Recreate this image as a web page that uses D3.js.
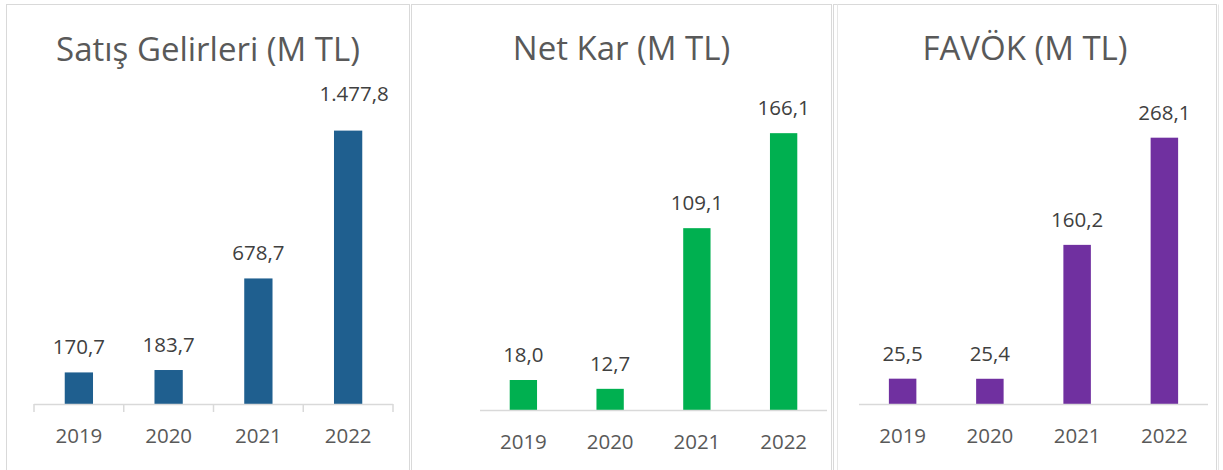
<!DOCTYPE html>
<html>
<head>
<meta charset="utf-8">
<script src="https://cdn.jsdelivr.net/npm/d3@7"></script>
<style>
  html, body { margin: 0; padding: 0; background: #ffffff; }
  svg { display: block; font-family: "Open Sans", "Noto Sans", sans-serif; }
</style>
</head>
<body>
<svg id="chart" width="1223" height="470"></svg>
<script>
// ---- data ----
const years = ["2019", "2020", "2021", "2022"];
const salesRevenue = [170.7, 183.7, 678.7, 1477.8];
const netProfit = [18.0, 12.7, 109.1, 166.1];
const ebitda = [25.5, 25.4, 160.2, 268.1];
const panelTitles = ["Satış Gelirleri (M TL)", "Net Kar (M TL)", "FAVÖK (M TL)"];
const axisMaxima = [1600, 180, 300];

// ---- layout / style ----
const seriesList = [salesRevenue, netProfit, ebitda];
const colors = ["#1F5F8F", "#00B050", "#7030A0"];
const panels = [
  { left: 6.5, right: 409.5, ax0: 34, ax1: 393, axisY: 404, top: 108, titleY: 61, ticks: true,
    nudge: { 3: { dx: 6, dy: -12 } } },
  { left: 411.5, right: 831.5, ax0: 480, ax1: 827, axisY: 410, top: 110, titleY: 60, ticks: false, nudge: {} },
  { left: 833.5, right: 1216.5, ax0: 859, ax1: 1208, axisY: 404, top: 106, titleY: 60, ticks: false, nudge: {},
    extra: [837.5, 1218.5] }
];

const trFormat = d3.formatLocale({ decimal: ",", thousands: ".", grouping: [3], currency: ["", " TL"] }).format(",.1f");
const svg = d3.select("#chart");
const pad = 0.685;

panels.forEach((p, i) => {
  const g = svg.append("g");
  // panel frame
  g.append("rect")
    .attr("x", p.left).attr("y", 4.5)
    .attr("width", p.right - p.left).attr("height", 480)
    .attr("fill", "none").attr("stroke", "#d9d9d9").attr("stroke-width", 1);
  if (p.extra) {
    p.extra.forEach(xx => g.append("line")
      .attr("x1", xx).attr("x2", xx).attr("y1", 4.5).attr("y2", 470)
      .attr("stroke", "#e6e6e6").attr("stroke-width", 1));
  }

  const x = d3.scaleBand().domain(years).range([p.ax0, p.ax1])
    .paddingInner(pad).paddingOuter(pad / 2);
  const y = d3.scaleLinear().domain([0, axisMaxima[i]]).range([p.axisY, p.top]);
  const data = years.map((yr, k) => ({ year: yr, value: seriesList[i][k], k }));

  // title
  g.append("text")
    .attr("x", (p.left + p.right) / 2).attr("y", p.titleY)
    .attr("text-anchor", "middle")
    .attr("font-size", 33).attr("fill", "#595959")
    .text(panelTitles[i]);

  // bars
  g.selectAll("rect.bar").data(data).join("rect")
    .attr("class", "bar")
    .attr("x", d => x(d.year)).attr("width", x.bandwidth())
    .attr("y", d => y(d.value)).attr("height", d => y(0) - y(d.value))
    .attr("fill", colors[i]);

  // axis
  const axis = d3.axisBottom(x).tickSize(0).tickPadding(0);
  const ag = g.append("g").attr("transform", `translate(0,${p.axisY})`).call(axis);
  ag.select(".domain").attr("stroke", "#d9d9d9").attr("stroke-width", 1.5)
    .attr("d", `M${p.ax0},0.5H${p.ax1}`);
  ag.selectAll(".tick text")
    .attr("dy", null).attr("y", 39)
    .attr("font-size", 20.5).attr("font-family", "Open Sans, sans-serif")
    .attr("fill", "#595959");
  if (p.ticks) {
    const step = x.step();
    d3.range(years.length + 1).forEach(k => {
      const tx = p.ax0 + k * step;
      ag.append("line").attr("x1", tx).attr("x2", tx).attr("y1", 0).attr("y2", 8)
        .attr("stroke", "#d9d9d9").attr("stroke-width", 1.5);
    });
  }

  // value labels
  g.selectAll("text.val").data(data).join("text")
    .attr("class", "val")
    .attr("x", d => x(d.year) + x.bandwidth() / 2 + ((p.nudge[d.k] || {}).dx || 0))
    .attr("y", d => y(d.value) - 18 + ((p.nudge[d.k] || {}).dy || 0))
    .attr("text-anchor", "middle")
    .attr("font-size", 20.5).attr("fill", "#404040")
    .text(d => trFormat(d.value));
});
</script>
</body>
</html>
